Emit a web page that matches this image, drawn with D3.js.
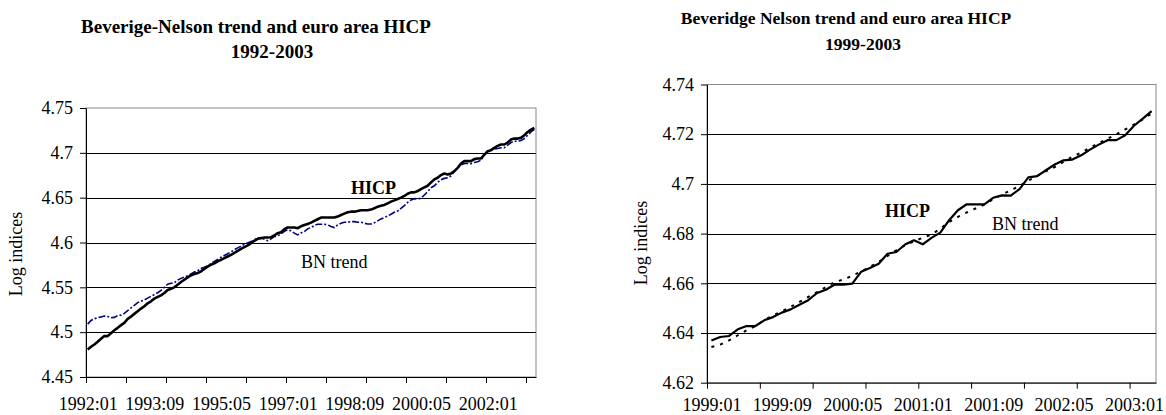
<!DOCTYPE html>
<html>
<head>
<meta charset="utf-8">
<script src="https://cdn.jsdelivr.net/npm/d3@7"></script>
<style>
  body { margin: 0; background: #fff; }
  svg { display: block; }
  text { font-family: "Liberation Serif", "Times New Roman", serif; fill: #000; }
</style>
</head>
<body>
<div class="demo"></div>
<script>
(function() {
    // monthly categories, labelled yyyy:mm
    function months(y, m, count) {
        var out = [];
        for (var i = 0; i < count; i++) {
            var mm = m - 1 + i;
            out.push((y + Math.floor(mm / 12)) + ":" + d3.format("02")(mm % 12 + 1));
        }
        return out;
    }

    // left panel: 1992:01 - 2003:03
    var leftMonths = months(1992, 1, 135);
    var leftHicp = [
        4.4807, 4.4837, 4.4863, 4.4893, 4.4926, 4.4956, 4.4956, 4.4989, 4.5022, 4.5048, 4.5078, 4.5104,
        4.5148, 4.5174, 4.5204, 4.5233, 4.5263, 4.5289, 4.5322, 4.5344, 4.5374, 4.5393, 4.5411, 4.5437,
        4.5470, 4.5485, 4.5500, 4.5530, 4.5559, 4.5585, 4.5611, 4.5633, 4.5648, 4.5659, 4.5678, 4.5707,
        4.5730, 4.5752, 4.5767, 4.5789, 4.5807, 4.5826, 4.5844, 4.5863, 4.5885, 4.5907, 4.5930, 4.5948,
        4.5967, 4.5993, 4.6019, 4.6041, 4.6048, 4.6056, 4.6056, 4.6059, 4.6078, 4.6104, 4.6115, 4.6148,
        4.6167, 4.6167, 4.6167, 4.6159, 4.6181, 4.6196, 4.6207, 4.6222, 4.6241, 4.6259, 4.6278, 4.6278,
        4.6278, 4.6278, 4.6278, 4.6289, 4.6307, 4.6322, 4.6337, 4.6344, 4.6344, 4.6352, 4.6359, 4.6359,
        4.6359, 4.6367, 4.6381, 4.6400, 4.6411, 4.6419, 4.6437, 4.6456, 4.6470, 4.6485, 4.6500, 4.6519,
        4.6544, 4.6559, 4.6559, 4.6574, 4.6596, 4.6615, 4.6633, 4.6670, 4.6704, 4.6722, 4.6752, 4.6770,
        4.6759, 4.6770, 4.6796, 4.6833, 4.6881, 4.6907, 4.6907, 4.6907, 4.6930, 4.6937, 4.6937, 4.6981,
        4.7019, 4.7030, 4.7056, 4.7078, 4.7093, 4.7093, 4.7115, 4.7148, 4.7159, 4.7159, 4.7167, 4.7196,
        4.7233, 4.7259, 4.7278
    ];
    var leftTrend = [
        4.5090, 4.5130, 4.5150, 4.5160, 4.5170, 4.5180, 4.5175, 4.5160, 4.5165, 4.5185, 4.5190, 4.5210,
        4.5240, 4.5270, 4.5300, 4.5330, 4.5345, 4.5360, 4.5380, 4.5400, 4.5420, 4.5440, 4.5465, 4.5500,
        4.5535, 4.5545, 4.5550, 4.5580, 4.5600, 4.5615, 4.5630, 4.5650, 4.5670, 4.5685, 4.5710, 4.5725,
        4.5740, 4.5765, 4.5790, 4.5810, 4.5835, 4.5855, 4.5875, 4.5895, 4.5920, 4.5940, 4.5960, 4.5980,
        4.5995, 4.6010, 4.6030, 4.6050, 4.6055, 4.6035, 4.6020, 4.6040, 4.6065, 4.6075, 4.6095, 4.6125,
        4.6140, 4.6130, 4.6105, 4.6085, 4.6107, 4.6122, 4.6152, 4.6167, 4.6189, 4.6204, 4.6204, 4.6204,
        4.6196, 4.6178, 4.6167, 4.6196, 4.6215, 4.6226, 4.6226, 4.6233, 4.6233, 4.6226, 4.6226, 4.6215,
        4.6207, 4.6207, 4.6219, 4.6241, 4.6263, 4.6278, 4.6296, 4.6315, 4.6337, 4.6352, 4.6381, 4.6411,
        4.6448, 4.6474, 4.6489, 4.6485, 4.6493, 4.6530, 4.6567, 4.6611, 4.6633, 4.6670, 4.6700, 4.6715,
        4.6722, 4.6744, 4.6789, 4.6833, 4.6863, 4.6881, 4.6881, 4.6878, 4.6893, 4.6900, 4.6919, 4.6974,
        4.7011, 4.7030, 4.7041, 4.7048, 4.7056, 4.7056, 4.7085, 4.7115, 4.7130, 4.7130, 4.7137, 4.7159,
        4.7196, 4.7233, 4.7263
    ];
    var leftTicks = [4.45, 4.5, 4.55, 4.6, 4.65, 4.7, 4.75];

    // right panel: 1999:01 - 2003:03
    var rightMonths = months(1999, 1, 51);
    var rightHicp = [
        4.6370, 4.6384, 4.6388, 4.6415, 4.6428, 4.6428, 4.6451, 4.6464, 4.6482, 4.6495, 4.6514, 4.6532,
        4.6561, 4.6574, 4.6595, 4.6595, 4.6599, 4.6646, 4.6662, 4.6679, 4.6719, 4.6726, 4.6756, 4.6773,
        4.6757, 4.6783, 4.6804, 4.6854, 4.6894, 4.6918, 4.6918, 4.6918, 4.6944, 4.6954, 4.6953, 4.6979,
        4.7026, 4.7031, 4.7055, 4.7078, 4.7095, 4.7098, 4.7115, 4.7138, 4.7158, 4.7176, 4.7176, 4.7196,
        4.7234, 4.7263, 4.7293
    ];
    var rightTrend = [
        4.6344, 4.6353, 4.6370, 4.6391, 4.6411, 4.6428, 4.6452, 4.6471, 4.6487, 4.6505, 4.6525, 4.6545,
        4.6565, 4.6585, 4.6605, 4.6615, 4.6630, 4.6648, 4.6666, 4.6686, 4.6710, 4.6733, 4.6753, 4.6769,
        4.6783, 4.6796, 4.6820, 4.6847, 4.6867, 4.6885, 4.6901, 4.6917, 4.6938, 4.6957, 4.6974, 4.6992,
        4.7013, 4.7032, 4.7051, 4.7068, 4.7089, 4.7109, 4.7126, 4.7145, 4.7164, 4.7182, 4.7200, 4.7219,
        4.7239, 4.7260, 4.7283
    ];
    var rightTicks = [4.62, 4.64, 4.66, 4.68, 4.7, 4.72, 4.74];

    var width = 1166,
        height = 415;

    var svg = d3.select(".demo").append("svg")
        .attr("width", width)
        .attr("height", height);

    svg.append("rect").attr("width", width).attr("height", height).attr("fill", "#fff");

    function panel(cfg) {
        var n = cfg.months.length;

        var x = d3.scaleLinear().domain([0, n]).range([cfg.left, cfg.right]);
        var y = d3.scaleLinear().domain(d3.extent(cfg.ticks)).range([cfg.bottom, cfg.top]);

        var g = svg.append("g");

        // plot frame (grey on top and right, like the spreadsheet)
        g.append("rect")
            .attr("x", cfg.left).attr("y", y(cfg.ticks[cfg.ticks.length - 1]))
            .attr("width", cfg.right - cfg.left)
            .attr("height", cfg.bottom - cfg.top)
            .attr("fill", "none").attr("stroke", "#888").attr("stroke-width", 1);

        // grid lines
        g.selectAll("line.grid")
            .data(cfg.ticks.slice(1, -1))
            .enter().append("line")
            .attr("class", "grid")
            .attr("x1", cfg.left).attr("x2", cfg.right)
            .attr("y1", function(d) { return Math.round(y(d)) + 0.5; })
            .attr("y2", function(d) { return Math.round(y(d)) + 0.5; })
            .attr("stroke", "#000").attr("stroke-width", 1);

        // y axis
        var yAxis = g.append("g")
            .attr("transform", "translate(" + cfg.left + ",0)")
            .call(d3.axisLeft(y).tickValues(cfg.ticks).tickSize(6).tickSizeOuter(0).tickPadding(7)
                .tickFormat(function(d) { return String(+d.toFixed(2)); }));

        // x axis: tick marks at category boundaries
        var xTicks = g.append("g")
            .attr("transform", "translate(0," + cfg.bottom + ")")
            .call(d3.axisBottom(x).tickValues(d3.range(0, n, cfg.tickEvery)).tickSize(6).tickSizeOuter(0)
                .tickFormat(""));

        // x axis: labels centred on categories
        var xLabels = g.append("g")
            .attr("transform", "translate(0," + cfg.bottom + ")")
            .call(d3.axisBottom(x).tickValues(d3.range(0, n, cfg.labelEvery).map(function(i) { return i + 0.5; }))
                .tickSize(0).tickPadding(cfg.labelPad)
                .tickFormat(function(d) { return cfg.months[d - 0.5]; }));
        xLabels.select(".domain").remove();

        [yAxis, xTicks, xLabels].forEach(function(a) {
            a.selectAll("text").style("font-size", "18px").style("font-family", "Liberation Serif").attr("fill", "#000");
            a.selectAll("line").attr("stroke", "#000");
            a.select(".domain").attr("stroke", "#000");
        });

        var line = d3.line()
            .x(function(d, i) { return x(i + 0.5); })
            .y(function(d) { return y(d); });

        g.append("path")
            .datum(cfg.trend)
            .attr("d", line)
            .attr("fill", "none")
            .attr("stroke", cfg.trendColor)
            .attr("stroke-width", cfg.trendWidth)
            .attr("stroke-dasharray", cfg.trendDash);

        g.append("path")
            .datum(cfg.hicp)
            .attr("d", line)
            .attr("fill", "none")
            .attr("stroke", "#000")
            .attr("stroke-width", cfg.hicpWidth)
            .attr("stroke-linejoin", "round");

        // titles
        g.append("text")
            .attr("x", cfg.title1[0]).attr("y", cfg.title1[1])
            .attr("text-anchor", "middle")
            .style("font-size", cfg.titleSize + "px").style("font-weight", "bold")
            .text(cfg.title1[2]);
        g.append("text")
            .attr("x", cfg.title2[0]).attr("y", cfg.title2[1])
            .attr("text-anchor", "middle")
            .style("font-size", cfg.titleSize + "px").style("font-weight", "bold")
            .text(cfg.title2[2]);

        // y axis title
        g.append("text")
            .attr("transform", "translate(" + cfg.yTitle[0] + "," + cfg.yTitle[1] + ") rotate(-90)")
            .attr("text-anchor", "middle")
            .style("font-size", "18px")
            .text("Log indices");

        // series labels
        g.append("text")
            .attr("x", cfg.hicpLabel[0]).attr("y", cfg.hicpLabel[1])
            .style("font-size", "18px").style("font-weight", "bold")
            .text("HICP");
        g.append("text")
            .attr("x", cfg.trendLabel[0]).attr("y", cfg.trendLabel[1])
            .style("font-size", "18px")
            .text("BN trend");
    }

    panel({
        months: leftMonths, hicp: leftHicp, trend: leftTrend, ticks: leftTicks,
        left: 86, right: 536, top: 108, bottom: 377,
        tickEvery: 12, labelEvery: 20, labelPad: 20,
        hicpWidth: 2.6, trendColor: "#000080", trendWidth: 1.6, trendDash: "7,2,2,2",
        titleSize: 19,
        title1: [256, 33, "Beverige-Nelson trend and euro area HICP"],
        title2: [272, 58, "1992-2003"],
        yTitle: [22, 254],
        hicpLabel: [351, 194], trendLabel: [301, 268]
    });

    panel({
        months: rightMonths, hicp: rightHicp, trend: rightTrend, ticks: rightTicks,
        left: 707, right: 1156, top: 84.5, bottom: 382.7,
        tickEvery: 6, labelEvery: 8, labelPad: 15.5,
        hicpWidth: 2.2, trendColor: "#000", trendWidth: 2, trendDash: "3,6",
        titleSize: 17.5,
        title1: [846, 24, "Beveridge Nelson trend and euro area HICP"],
        title2: [863, 50, "1999-2003"],
        yTitle: [647, 243],
        hicpLabel: [885, 217], trendLabel: [992, 230]
    });
})();
</script>
</body>
</html>
